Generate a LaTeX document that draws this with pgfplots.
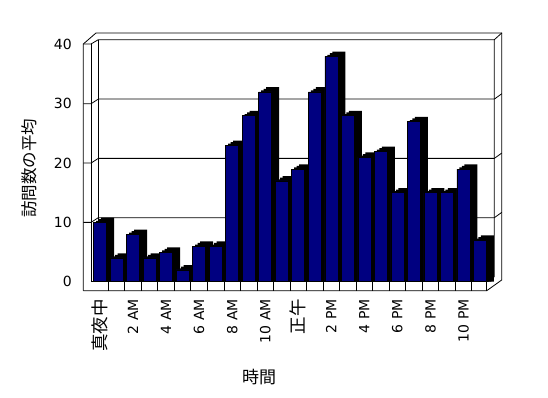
\documentclass[border=0pt]{standalone}
\usepackage{pgfplots}
\usepackage{pgfplotstable}
\pgfplotsset{compat=1.18}
\usepackage{fontspec}
\setmainfont{DejaVu Sans}
\newfontfamily\jp{Noto Sans CJK JP}
\definecolor{navybar}{RGB}{0,0,128}
\newcommand\ticklat{\fontsize{14}{16}\selectfont}
\newcommand\tickjp{\jp\fontsize{17.5}{18}\selectfont}

\pgfplotstableread{
x v
0 10
1 4
2 8
3 4
4 5
5 2
6 6
7 6
8 23
9 28
10 32
11 17
12 19
13 32
14 38
15 28
16 21
17 22
18 15
19 27
20 15
21 15
22 19
23 7
}\visits

\begin{document}
\begin{tikzpicture}
\path[use as bounding box] (0,0) rectangle (548pt,398pt);
\begin{axis}[
  at={(83.3pt,107.3pt)}, anchor=south west,
  x=16.52pt, y=5.93pt,
  xmin=-1.011, xmax=24.32, ymin=-1.52, ymax=41.94,
  clip=false,
  no markers,
  axis line style={draw=none},
  tick style={draw=none},
  ytick={0,10,20,30,40},
  xtick={0,2,...,22},
  xticklabels={{\tickjp 真夜中},{\ticklat 2 AM},{\ticklat 4 AM},{\ticklat 6 AM},{\ticklat 8 AM},{\ticklat 10 AM},{\tickjp 正午},{\ticklat 2 PM},{\ticklat 4 PM},{\ticklat 6 PM},{\ticklat 8 PM},{\ticklat 10 PM}},
  xticklabel style={rotate=90, anchor=east},
  xticklabel shift=5pt,
  yticklabel={\ticklat\pgfmathprintnumber[assume math mode=true]{\tick}},
  yticklabel shift=8pt,
  xlabel={\jp 時間}, ylabel={\jp 訪問数の平均},
  every axis x label/.style={at={(rel axis cs:0.42,-0.335)}, anchor=center, font=\fontsize{17}{18}\selectfont},
  every axis y label/.style={at={(rel axis cs:-0.1286,0.476)}, rotate=90, anchor=center, font=\fontsize{16.5}{18}\selectfont},
]
% back wall gridlines (with left wall segments and right edge diagonals)
\addplot[black, line width=0.8pt] coordinates {(-1.011,10) (-0.545,10) (-0.103,10.79) (23.87,10.79) (24.32,11.69)};
\addplot[black, line width=0.8pt] coordinates {(-1.011,20) (-0.545,20) (-0.103,20.79) (23.87,20.79) (24.32,21.69)};
\addplot[black, line width=0.8pt] coordinates {(-1.011,30) (-0.545,30) (-0.103,30.79) (23.87,30.79) (24.32,31.69)};
% back wall left edge and right inner edge
\addplot[black, line width=0.8pt] coordinates {(-0.103,40.81) (-0.103,0.79)};
\addplot[black, line width=0.8pt] coordinates {(23.87,40.81) (23.87,0.84) (23.41,0)};
% left wall inner front edge and top
\addplot[black, line width=0.8pt] coordinates {(-0.545,0) (-0.545,40.08)};
\addplot[black, line width=0.8pt] coordinates {(-1.011,40.08) (-0.545,40.08) (-0.103,40.81) (23.87,40.81) (24.32,41.94)};
% bars: 3D side/top in black, front in navy
\addplot[ybar, bar width=13pt, bar shift=7.5pt, fill=black, draw=none] table[x=x, y expr=\thisrow{v}+0.79]{\visits};
\addplot[ybar, bar width=13pt, bar shift=5pt, fill=black, draw=none] table[x=x, y expr=\thisrow{v}+0.53]{\visits};
\addplot[ybar, bar width=13pt, bar shift=2.5pt, fill=black, draw=none] table[x=x, y expr=\thisrow{v}+0.26]{\visits};
\addplot[ybar, bar width=13pt, bar shift=0pt, fill=navybar, draw=black, line width=0.5pt] table[x=x, y=v]{\visits};
% floor front face
\addplot[black, line width=0.8pt] coordinates {(-0.545,0) (23.41,0) (23.41,-1.52)};
\addplot[ycomb, black, line width=0.8pt] coordinates {(0.5,-1.52) (1.5,-1.52) (2.5,-1.52) (3.5,-1.52) (4.5,-1.52) (5.5,-1.52) (6.5,-1.52) (7.5,-1.52) (8.5,-1.52) (9.5,-1.52) (10.5,-1.52) (11.5,-1.52) (12.5,-1.52) (13.5,-1.52) (14.5,-1.52) (15.5,-1.52) (16.5,-1.52) (17.5,-1.52) (18.5,-1.52) (19.5,-1.52) (20.5,-1.52) (21.5,-1.52) (22.5,-1.52)};
% outer frame
\addplot[black, line width=0.8pt] coordinates {(-1.011,-1.52) (-1.011,40.08) (-0.242,41.94) (24.32,41.94) (24.32,0.29) (23.41,-1.52) (-1.011,-1.52)};
\end{axis}
\end{tikzpicture}
\end{document}
